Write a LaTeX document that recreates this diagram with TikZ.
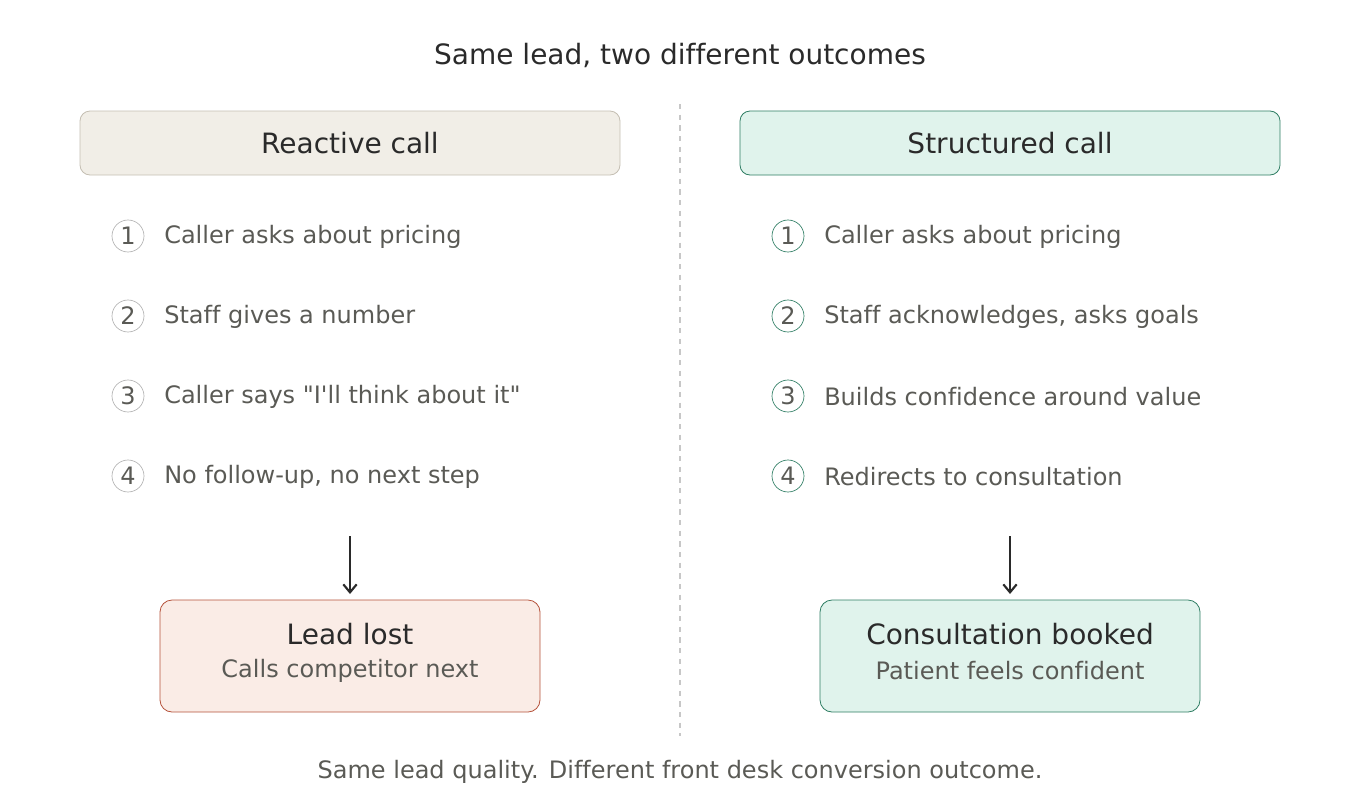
\documentclass[tikz,border=0pt]{standalone}
\usepackage{fontspec}
\setmainfont{DejaVu Sans}[Ligatures={TeXOff,CommonOff}]
\usetikzlibrary{arrows.meta}
\definecolor{dark}{HTML}{2A2A2A}
\definecolor{mid}{HTML}{5A5A55}
\definecolor{lfill}{HTML}{F1EEE7}
\definecolor{ldraw}{HTML}{C4BEB2}
\definecolor{gfill}{HTML}{E0F3EC}
\definecolor{gdraw}{HTML}{2E7D63}
\definecolor{rfill}{HTML}{FAECE6}
\definecolor{rdraw}{HTML}{B5523A}
\begin{document}
\begin{tikzpicture}[x=0.75pt,y=-0.75pt,
  big/.style={font=\fontsize{21}{25}\selectfont,text=dark},
  small/.style={font=\fontsize{18}{22}\selectfont,text=mid},
  hdr/.style={big,rounded corners=7.5pt,minimum width=405pt,minimum height=48pt,line width=0.6pt},
  num/.style={small,circle,draw,minimum size=24pt,inner sep=0pt,line width=0.5pt},
  item/.style={small,anchor=west,inner sep=0pt},
  res/.style={rounded corners=9pt,minimum width=285pt,minimum height=84pt,line width=0.6pt},
  arr/.style={-{Straight Barb[length=6pt,width=10pt]},line width=1.6pt,draw=dark}]
\useasboundingbox (0,0) rectangle (1360,800);
\node[big] (title) at (680,55) {Same lead, two different outcomes};
\coordinate (dt) at (680,104); \coordinate (db) at (680,736);
\draw[draw=black!22,line width=0.8pt,dash pattern=on 4pt off 4pt] (dt) -- (db);
\node[hdr,fill=lfill,draw=ldraw] (lh) at (350,143) {Reactive call};
\node[hdr,fill=gfill,draw=gdraw] (rh) at (1010,143) {Structured call};
\foreach \i/\t [count=\k] in {236/Caller asks about pricing,316/Staff gives a number,396/Caller says "I'll think about it",476/{No follow-up, no next step}}{
  \node[num,draw=black!30] (ln\k) at (128,\i) {\k};
  \node[item] (lt\k) at (164,\i+1) {\t};}
\foreach \i/\t [count=\k] in {236/Caller asks about pricing,316/{Staff acknowledges, asks goals},396/Builds confidence around value,476/Redirects to consultation}{
  \node[num,draw=gdraw] (rn\k) at (788,\i) {\k};
  \node[item] (rt\k) at (824,\i+1) {\t};}
\node[res,fill=rfill,draw=rdraw] (lr) at (350,656) {};
\node[big] (lrt) at (350,634) {Lead lost};
\node[small] (lrs) at (350,671) {Calls competitor next};
\node[res,fill=gfill,draw=gdraw] (rr) at (1010,656) {};
\node[big] (rrt) at (1010,634) {Consultation booked};
\node[small] (rrs) at (1010,671) {Patient feels confident};
\coordinate (la) at (350,536); \coordinate (ra) at (1010,536);
\draw[arr] (la) -- (lr.north |- 0,594);
\draw[arr] (ra) -- (rr.north |- 0,594);
\node[small] (foot) at (680,772) {Same lead quality. Different front desk conversion outcome.};
\end{tikzpicture}
\end{document}
